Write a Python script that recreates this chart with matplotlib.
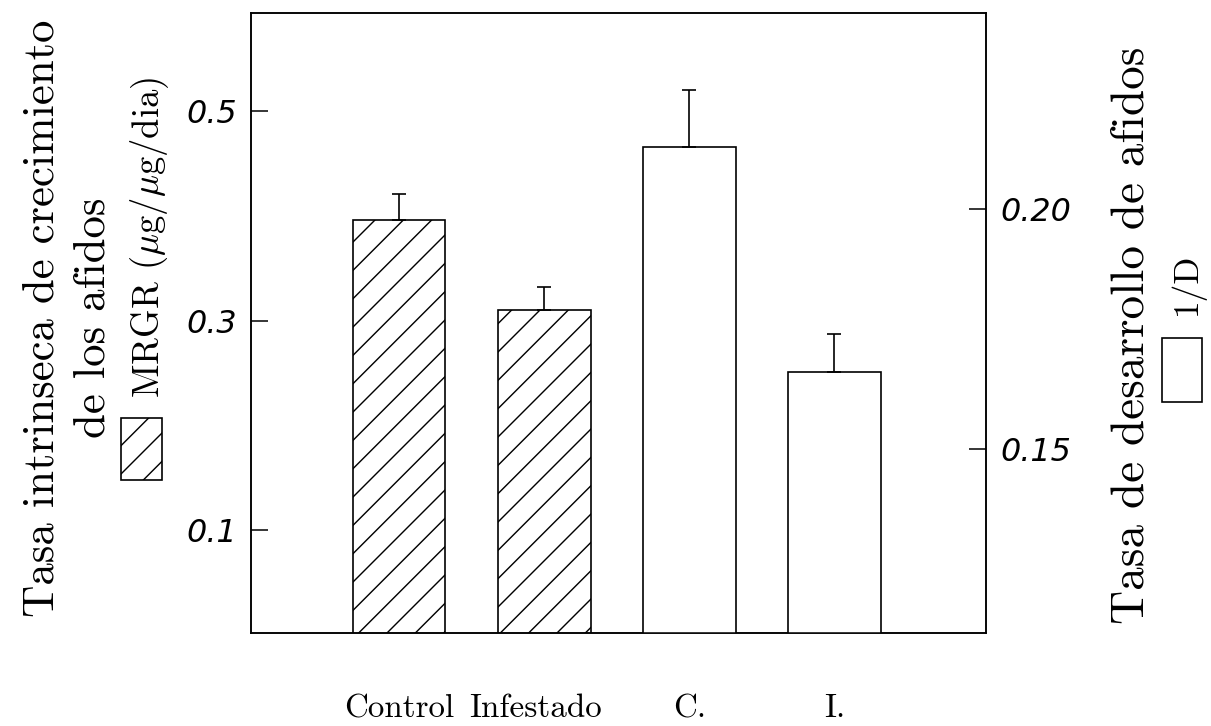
import matplotlib.pyplot as plt
from matplotlib.patches import Rectangle
from matplotlib.transforms import ScaledTranslation

# values
groups = ['Control', 'Infestado', 'C.', 'I.']
mrgr = [0.396, 0.310]          # left axis, hatched bars
mrgr_err = [0.025, 0.022]
dev_rate = [0.213, 0.166]      # right axis, open bars (1/D)
dev_err = [0.0117, 0.0080]

DPI = 170  # high dpi so the '//' hatch gets the wide spacing of the original
plt.rcParams['mathtext.fontset'] = 'cm'
plt.rcParams['hatch.linewidth'] = 0.6
plt.rcParams['axes.linewidth'] = 0.65

fig = plt.figure(figsize=(1211 / DPI, 726 / DPI), dpi=DPI)
ax = fig.add_axes([0.2073, 0.1281, 0.6069, 0.854])
ax2 = ax.twinx()

pos_left = [0, 1]
pos_right = [2, 3]
w = 0.64

ax.bar(pos_left, mrgr, width=w, facecolor='white', edgecolor='black',
       linewidth=0.7, hatch='//', zorder=2)
ax.errorbar(pos_left, mrgr, yerr=[[0, 0], mrgr_err], fmt='none',
            ecolor='black', elinewidth=0.7, capsize=3, capthick=0.7, zorder=3)

ax2.bar(pos_right, dev_rate, width=w, facecolor='white', edgecolor='black',
        linewidth=0.7, zorder=2)
ax2.errorbar(pos_right, dev_rate, yerr=[[0, 0], dev_err], fmt='none',
             ecolor='black', elinewidth=0.7, capsize=3, capthick=0.7, zorder=3)

ax.set_xlim(-1.02, 4.045)
ax.set_ylim(0.0017, 0.5936)
ax2.set_ylim(0.1117, 0.2408)

ax.set_yticks([0.1, 0.3, 0.5])
ax.set_yticklabels(['0.1', '0.3', '0.5'])
ax2.set_yticks([0.15, 0.20])
ax2.set_yticklabels(['0.15', '0.20'])

for lab in ax.get_yticklabels() + ax2.get_yticklabels():
    lab.set_family('DejaVu Sans')
    lab.set_style('oblique')
    lab.set_size(13.5)

ax.tick_params(axis='y', direction='in', length=7, width=0.65, pad=6)
ax2.tick_params(axis='y', direction='in', length=7, width=0.65, pad=6)

ax.set_xticks(range(len(groups)))
ax.set_xticklabels(groups, family='cmr10', size=14)
ax.tick_params(axis='x', length=0, pad=26)
# "Infestado" sits a little left of its bar in the original
lab = ax.get_xticklabels()[1]
lab.set_transform(lab.get_transform() + ScaledTranslation(-9 / DPI, 0, fig.dpi_scale_trans))

# axis titles
fig.text(68 / 1211, 1 - 318 / 726, 'Tasa intrinseca de crecimiento\nde los afidos',
         rotation=90, ha='center', va='center', multialignment='center',
         family='cmr10', size=19, linespacing=1.35)
fig.text(150 / 1211, 1 - 237 / 726, r'MRGR ($\mu$g/$\mu$g/dia)',
         rotation=90, ha='center', va='center', family='cmr10', size=15.5)
fig.text(1132 / 1211, 1 - 335 / 726, 'Tasa de desarrollo de afidos',
         rotation=90, ha='center', va='center', family='cmr10', size=20)
fig.text(1187 / 1211, 1 - 284 / 726, '1/D',
         rotation=90, ha='center', va='center', family='cmr10', size=15)

# legend swatches
fig.add_artist(Rectangle((121 / 1211, 1 - 480 / 726), 41 / 1211, 62 / 726,
                         transform=fig.transFigure, facecolor='white',
                         edgecolor='black', linewidth=0.7, hatch='//'))
fig.add_artist(Rectangle((1162 / 1211, 1 - 402 / 726), 40 / 1211, 64 / 726,
                         transform=fig.transFigure, facecolor='white',
                         edgecolor='black', linewidth=0.7))

fig.savefig('out.png', dpi=DPI, facecolor='white')
